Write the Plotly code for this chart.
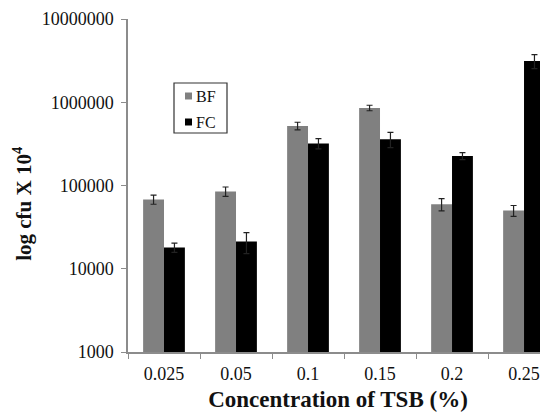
import plotly.graph_objects as go

categories = ["0.025", "0.05", "0.1", "0.15", "0.2", "0.25"]
bf_values = [68000, 85000, 520000, 855000, 59500, 50000]
bf_errors = [8500, 11000, 55000, 65000, 10000, 7500]
fc_values = [18000, 21200, 320000, 360000, 226000, 3130000]
fc_errors = [2300, 6000, 45000, 75000, 22000, 600000]
y_tickvals = [1000, 10000, 100000, 1000000, 10000000]
y_ticktext = ["1000", "10000", "100000", "1000000", "10000000"]
series_names = ["BF", "FC"]
series_colors = ["#808080", "#000000"]

FONT = "Liberation Serif, Times New Roman, serif"

# page has an 8px body margin; plot area wanted at page x 128..548, y 19..352
fig = go.Figure()
for name, vals, errs, col in zip(series_names, [bf_values, fc_values],
                                 [bf_errors, fc_errors], series_colors):
    fig.add_trace(go.Bar(
        x=categories, y=vals, name=name,
        marker=dict(color=col, line=dict(width=0)),
        error_y=dict(type="data", array=errs, visible=True,
                     color="#222222", thickness=1.2, width=3),
        showlegend=False,
    ))

fig.update_layout(
    width=540, height=404,
    margin=dict(l=120, r=0, t=11, b=60),
    paper_bgcolor="white", plot_bgcolor="white",
    barmode="group", bargap=0.42, bargroupgap=0,
    font=dict(family=FONT, size=18, color="#111111"),
    xaxis=dict(
        type="category", range=[-0.5, 5.333],
        showline=True, linecolor="#8c8c8c", linewidth=1.5,
        ticks="outside", tickson="boundaries", ticklen=5, tickcolor="#8c8c8c",
        ticklabelstandoff=5,
        showgrid=False, zeroline=False,
        tickfont=dict(family=FONT, size=18, color="#111111"),
        title=dict(text="<b>Concentration of TSB (%)</b>",
                   font=dict(family=FONT, size=23, color="#111111"), standoff=8),
    ),
    yaxis=dict(
        type="log", range=[3, 7],
        tickvals=y_tickvals, ticktext=y_ticktext,
        showline=True, linecolor="#8c8c8c", linewidth=1.5,
        ticks="outside", ticklen=5, tickcolor="#8c8c8c",
        ticklabelstandoff=4,
        showgrid=False, zeroline=False,
        tickfont=dict(family=FONT, size=18, color="#111111"),
    ),
)

# y-axis title
fig.add_annotation(
    text="<b>log cfu X 10<sup>4</sup></b>", xref="paper", yref="paper",
    x=-0.25, y=0.445, textangle=-90, showarrow=False, borderpad=0,
    font=dict(family=FONT, size=21, color="#111111"),
    xanchor="center", yanchor="middle",
)

# legend box (drawn)
fig.add_shape(type="rect", xref="paper", yref="paper",
              x0=(174-128)/420, x1=(227-128)/420,
              y0=(352-133)/333, y1=(352-83)/333,
              line=dict(color="#333333", width=1.2), fillcolor="white")
for i, (name, col) in enumerate(zip(series_names, series_colors)):
    yc = [96, 122][i]
    fig.add_shape(type="rect", xref="paper", yref="paper",
                  x0=(185-128)/420, x1=(192-128)/420,
                  y0=(352-yc-3.5)/333, y1=(352-yc+3.5)/333,
                  line=dict(width=0), fillcolor=col)
    fig.add_annotation(text=name, xref="paper", yref="paper",
                       x=(194-128)/420, y=(352-yc)/333, showarrow=False,
                       xanchor="left", yanchor="middle",
                       font=dict(family=FONT, size=16, color="#111111"))

fig.write_html("out.html")
